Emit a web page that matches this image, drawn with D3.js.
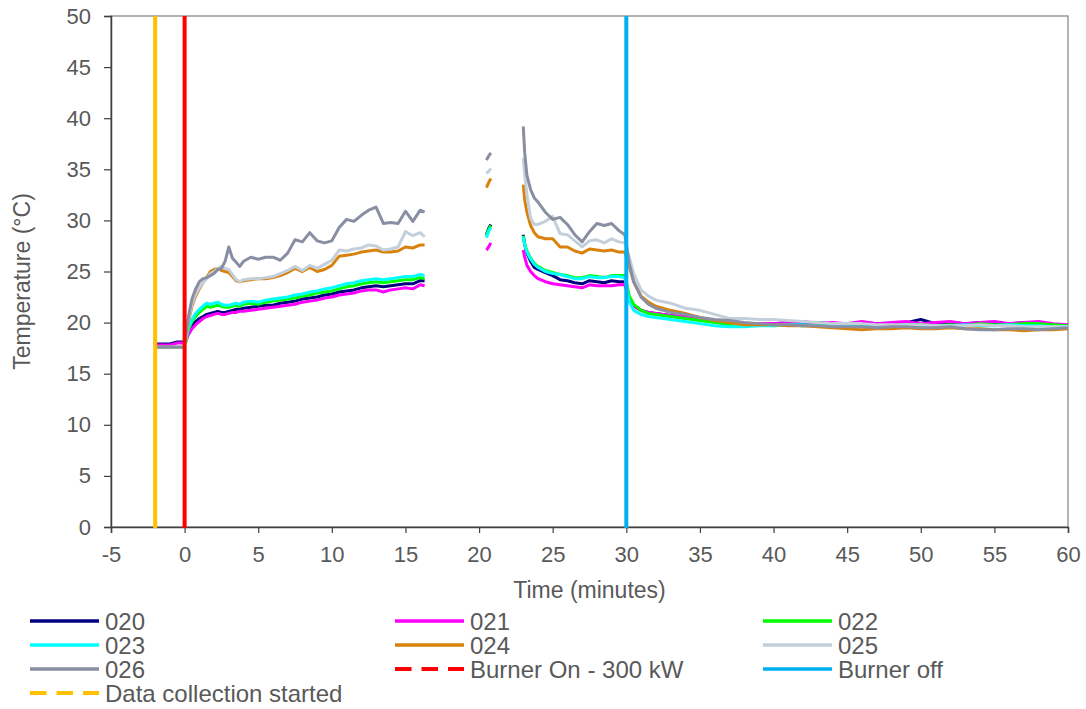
<!DOCTYPE html>
<html lang="en">
<head>
<meta charset="UTF-8" />
<title>Temperature vs Time</title>
<script src="https://d3js.org/d3.v7.min.js"></script>
<style>
  body { margin: 0; background: #fff; }
  svg { display: block; font-family: "Liberation Sans", Arial, sans-serif; }
</style>
</head>
<body>
<svg id="chart" width="1086" height="709"></svg>
<script>
// time (minutes): warm-up, gap, short mid segment, gap, cool-down
const tWarm = [-2, -1.5, -1, -0.5, -0.05, 0.1, 0.25, 0.5, 0.75,
  1, 1.25, 1.5, 1.75, 2, 2.25, 2.5, 2.75, 3, 3.25, 3.5, 3.75, 4,
  4.5, 5, 5.5, 6, 6.5, 7, 7.5, 8, 8.5, 9, 9.5, 10, 10.5, 11, 11.5, 12, 12.5, 13, 13.5, 14, 14.5, 15, 15.5, 16,
  16.3];
const tMid = [20.5, 20.65, 20.8];
const tCool = [23, 23.1, 23.25, 23.5, 23.75, 24, 24.5, 25, 25.5, 26, 26.5, 27, 27.5, 28, 28.5, 29, 29.5, 29.9,
  30.2, 30.5, 31, 31.5, 32,
  33, 34, 35, 36, 37, 38, 39, 40, 41, 42, 43, 44, 45, 46, 47, 48, 49, 50, 51, 52, 53, 54, 55, 56, 57, 58, 59, 60];
const times = [...tWarm, 18, ...tMid, 22, ...tCool];

// temperatures (°C), null = no data
const s020 = [17.9, 17.9, 17.9, 18.1, 18.1, 18.3, 19.1, 19.7, 20.1,
  20.4, 20.6, 20.8, 20.9, 21.0, 21.1, 21.0, 21.0, 21.1, 21.2, 21.3, 21.3, 21.4,
  21.5, 21.6, 21.7, 21.7, 21.9, 22.0, 22.1, 22.3, 22.4, 22.5, 22.7, 22.8, 23.0, 23.1, 23.2, 23.4, 23.5, 23.6, 23.5, 23.6, 23.7, 23.8, 23.8, 24.1,
  24.1,
  null, 28.6, 29.2, 29.6, null,
  28.6, 27.6, 26.8, 26.0, 25.4, 25.2, 24.9, 24.6, 24.2, 24.1, 23.9, 23.8, 24.1, 24.0, 23.9, 24.1, 24.0, 24.0,
  22.4, 21.7, 21.2, 21.0, 20.9,
  20.7, 20.5, 20.3, 20.1, 19.9, 19.8, 19.9, 19.9, 20.0, 19.9, 20.0, 19.9, 19.9, 20.0, 19.9, 19.9, 20.0, 20.3, 19.9, 20.0, 19.9, 20.0, 20.0, 19.9, 20.0, 19.9, 19.8, 19.7];
const s021 = [17.8, 17.8, 17.8, 18.0, 18.0, 18.2, 18.8, 19.4, 19.8,
  20.1, 20.4, 20.6, 20.7, 20.8, 20.9, 20.8, 20.8, 20.9, 21.0, 21.0, 21.1, 21.1,
  21.2, 21.3, 21.4, 21.5, 21.6, 21.7, 21.8, 22.0, 22.1, 22.2, 22.4, 22.5, 22.7, 22.8, 22.9, 23.1, 23.2, 23.2, 23.0, 23.2, 23.3, 23.4, 23.3, 23.7,
  23.6,
  null, 27.1, 27.4, 27.8, null,
  27.1, 26.4, 25.6, 25.0, 24.6, 24.3, 24.0, 23.8, 23.7, 23.6, 23.5, 23.4, 23.7, 23.6, 23.6, 23.6, 23.7, 23.7,
  22.2, 21.6, 21.2, 21.0, 20.9,
  20.7, 20.6, 20.3, 20.1, 19.9, 19.9, 19.9, 19.9, 20.0, 20.1, 19.9, 20.0, 19.9, 20.1, 19.9, 20.0, 20.1, 19.9, 20.0, 20.1, 19.9, 20.0, 20.1, 19.9, 20.0, 20.1, 19.9, 19.8];
const s022 = [17.6, 17.6, 17.6, 17.6, 17.6, 18.2, 19.3, 20.1, 20.6,
  21.0, 21.3, 21.6, 21.5, 21.6, 21.7, 21.6, 21.5, 21.5, 21.6, 21.7, 21.6, 21.8,
  21.9, 21.8, 22.0, 22.1, 22.2, 22.3, 22.4, 22.6, 22.7, 22.9, 23.0, 23.1, 23.3, 23.5, 23.6, 23.8, 23.9, 24.0, 23.9, 24.0, 24.1, 24.2, 24.2, 24.4,
  24.3,
  null, 28.5, 29.1, 29.5, null,
  28.5, 27.7, 27.0, 26.3, 25.8, 25.5, 25.1, 24.9, 24.7, 24.6, 24.4, 24.4, 24.6, 24.5, 24.4, 24.6, 24.6, 24.6,
  22.6, 21.8, 21.2, 20.9, 20.8,
  20.6, 20.4, 20.2, 20.0, 19.8, 19.7, 19.8, 19.7, 19.8, 19.7, 19.8, 19.7, 19.7, 19.8, 19.7, 19.7, 19.8, 19.8, 19.7, 19.8, 19.7, 19.9, 19.8, 19.8, 19.9, 19.9, 19.8, 19.7];
const s023 = [17.6, 17.6, 17.6, 17.6, 17.6, 18.3, 19.5, 20.3, 20.9,
  21.3, 21.6, 21.9, 21.8, 21.9, 22.0, 21.8, 21.7, 21.7, 21.8, 21.9, 21.8, 22.0,
  22.1, 22.0, 22.2, 22.3, 22.4, 22.5, 22.7, 22.8, 23.0, 23.1, 23.3, 23.4, 23.6, 23.8, 23.9, 24.1, 24.2, 24.3, 24.2, 24.3, 24.4, 24.5, 24.5, 24.7,
  24.6,
  null, 28.3, 28.9, 29.3, null,
  28.4, 27.6, 26.9, 26.2, 25.7, 25.4, 25.0, 24.8, 24.7, 24.5, 24.3, 24.3, 24.5, 24.4, 24.4, 24.5, 24.5, 24.4,
  22.0, 21.2, 20.8, 20.6, 20.5,
  20.3, 20.1, 19.9, 19.7, 19.6, 19.6, 19.7, 19.7, 19.8, 19.8, 19.7, 19.7, 19.7, 19.8, 19.7, 19.7, 19.8, 19.7, 19.7, 19.7, 19.8, 19.7, 19.7, 19.8, 19.7, 19.7, 19.6, 19.6];
const s024 = [17.6, 17.6, 17.6, 17.6, 17.6, 18.5, 20.0, 21.6, 22.6,
  23.3, 23.9, 24.4, 25.0, 25.2, 25.3, 25.1, 25.0, 24.9, 24.5, 24.1, 24.0, 24.1,
  24.2, 24.3, 24.3, 24.4, 24.6, 24.9, 25.3, 25.0, 25.4, 25.0, 25.2, 25.6, 26.5, 26.6, 26.7, 26.9, 27.0, 27.1, 26.9, 26.9, 27.0, 27.4, 27.3, 27.6,
  27.6,
  null, 33.2, 33.7, 34.1, null,
  33.5, 32.0, 30.8, 29.5, 28.8, 28.4, 28.2, 28.2, 27.4, 27.4, 27.0, 26.8, 27.2, 27.1, 27.0, 27.1, 26.9, 26.9,
  25.5, 24.0, 22.6, 22.0, 21.6,
  21.2, 20.9, 20.5, 20.2, 20.0, 19.8, 19.8, 19.8, 19.7, 19.7, 19.6, 19.5, 19.4, 19.3, 19.4, 19.4, 19.5, 19.4, 19.4, 19.5, 19.4, 19.4, 19.3, 19.3, 19.2, 19.3, 19.3, 19.4];
const s025 = [17.6, 17.6, 17.6, 17.6, 17.6, 18.6, 20.2, 21.8, 22.8,
  23.4, 23.9, 24.3, 24.8, 25.0, 25.3, 25.5, 25.3, 25.2, 24.7, 24.2, 24.0, 24.2,
  24.3, 24.3, 24.4, 24.5, 24.8, 25.1, 25.5, 25.1, 25.6, 25.3, 25.7, 26.1, 27.1, 27.0, 27.2, 27.3, 27.6, 27.5, 27.1, 27.2, 27.4, 28.9, 28.5, 28.8,
  28.4,
  null, 34.6, 34.8, 35.1, null,
  36.1, 34.5, 32.5, 30.2, 29.6, 29.6, 29.9, 30.4, 28.7, 28.6, 28.0, 27.4, 28.0, 28.1, 27.8, 28.2, 27.9, 27.8,
  26.4, 24.8, 23.2, 22.6, 22.2,
  21.9, 21.4, 21.2, 20.8, 20.4, 20.4, 20.3, 20.3, 20.2, 20.1, 20.0, 19.9, 19.9, 19.9, 19.8, 19.8, 19.8, 19.8, 19.7, 19.7, 19.7, 19.8, 19.7, 19.7, 19.6, 19.6, 19.6, 19.6];
const s026 = [17.6, 17.6, 17.6, 17.6, 17.6, 18.8, 20.5, 22.3, 23.3,
  24.0, 24.3, 24.4, 24.6, 24.8, 25.2, 25.3, 26.0, 27.4, 26.3, 25.9, 25.5, 26.0,
  26.4, 26.2, 26.4, 26.4, 26.1, 26.8, 28.1, 27.9, 28.8, 28.0, 27.8, 28.0, 29.3, 30.1, 29.9, 30.5, 31.0, 31.3, 29.7, 29.8, 29.7, 30.9, 29.9, 31.0,
  30.8,
  null, 35.9, 36.3, 36.6, null,
  39.2, 36.6, 34.4, 33.0, 32.2, 31.8, 30.8, 30.1, 30.3, 29.6, 28.6, 27.9, 28.9, 29.7, 29.5, 29.7, 29.0, 28.6,
  25.8, 24.0, 22.5, 21.8, 21.4,
  21.0, 20.8, 20.5, 20.3, 20.2, 20.0, 19.9, 19.8, 19.8, 19.7, 19.7, 19.6, 19.6, 19.6, 19.5, 19.6, 19.6, 19.5, 19.5, 19.6, 19.4, 19.3, 19.3, 19.4, 19.4, 19.3, 19.4, 19.5];

const seriesNames = ["020", "021", "022", "023", "024", "025", "026"];
const seriesValues = [s020, s021, s022, s023, s024, s025, s026];
const seriesColors = ["#000080", "#ff00ff", "#00ff00", "#00ffff", "#d9820b", "#c3cfda", "#8a8ea2"];

// event markers (vertical lines)
const eventNames = ["Burner On - 300 kW", "Burner off", "Data collection started"];
const eventTimes = [0, 30, -2];
const eventColors = ["#ff0000", "#00b0f0", "#ffc000"];
const eventDashed = [true, false, true];

const xTicks = d3.range(-5, 61, 5);
const yTicks = d3.range(0, 51, 5);

const svg = d3.select("#chart");
const margin = { top: 16, right: 18, bottom: 182, left: 111 };
const width = 1086 - margin.left - margin.right;
const height = 709 - margin.top - margin.bottom;
const textColor = "#595959";

const g = svg.append("g").attr("transform", `translate(${margin.left},${margin.top})`);

const x = d3.scaleLinear().domain([-5, 60]).range([0, width]);
const y = d3.scaleLinear().domain([0, 50]).range([height, 0]);

// plot area frame
g.append("rect")
  .attr("width", width).attr("height", height)
  .attr("fill", "none").attr("stroke", "#808080").attr("stroke-width", 1.2);

const xAxis = g.append("g")
  .attr("transform", `translate(0,${height})`)
  .call(d3.axisBottom(x).tickValues(xTicks).tickSize(6).tickPadding(13).tickFormat(d => String(d)));
const yAxis = g.append("g")
  .call(d3.axisLeft(y).tickValues(yTicks).tickSize(7).tickPadding(13).tickFormat(d => String(d)));

[xAxis, yAxis].forEach(a => {
  a.select(".domain").attr("stroke", "#404040").attr("stroke-width", 1.5);
  a.selectAll(".tick line").attr("stroke", "#404040").attr("stroke-width", 1.2);
  a.selectAll(".tick text")
    .attr("fill", textColor)
    .style("font-size", "22px")
    .style("font-family", "'Liberation Sans', Arial, sans-serif");
});

// series lines
const rows = seriesValues.map(vals => times.map((t, i) => ({ t: t, v: vals[i] })));
const line = d3.line()
  .defined(d => d.v != null)
  .x(d => x(d.t))
  .y(d => y(d.v));

g.selectAll(".series")
  .data(rows)
  .enter()
  .append("path")
  .attr("class", "series")
  .attr("d", line)
  .attr("fill", "none")
  .attr("stroke", (d, i) => seriesColors[i])
  .attr("stroke-width", 3)
  .attr("stroke-linejoin", "round");

// event lines
g.selectAll(".event")
  .data(eventTimes)
  .enter()
  .append("line")
  .attr("class", "event")
  .attr("x1", d => x(d)).attr("x2", d => x(d))
  .attr("y1", y(0) + 1).attr("y2", y(50))
  .attr("stroke", (d, i) => eventColors[i])
  .attr("stroke-width", 4);

// axis titles
svg.append("text")
  .attr("x", margin.left + width / 2)
  .attr("y", 598)
  .attr("text-anchor", "middle")
  .attr("fill", textColor)
  .style("font-size", "23px")
  .text("Time (minutes)");

svg.append("text")
  .attr("transform", `translate(30,${margin.top + height / 2 + 10}) rotate(-90)`)
  .attr("text-anchor", "middle")
  .attr("fill", textColor)
  .style("font-size", "23px")
  .text("Temperature (°C)");

// legend
const legendItems = seriesNames.map((n, i) => ({ name: n, color: seriesColors[i], dashed: false }))
  .concat(eventNames.map((n, i) => ({ name: n, color: eventColors[i], dashed: eventDashed[i] })));
const colX = [30, 395, 763];
const rowY = 621, rowStep = 24;

const legend = svg.append("g");
const item = legend.selectAll(".item")
  .data(legendItems)
  .enter()
  .append("g")
  .attr("class", "item")
  .attr("transform", (d, i) => `translate(${colX[i % 3]},${rowY + Math.floor(i / 3) * rowStep})`);

item.append("line")
  .attr("x1", 0).attr("x2", 69)
  .attr("stroke", d => d.color)
  .attr("stroke-width", d => d.dashed ? 4 : 3.5)
  .attr("stroke-dasharray", d => d.dashed ? "16.5,10" : null);

item.append("text")
  .attr("x", 75)
  .attr("dy", "0.36em")
  .attr("fill", textColor)
  .style("font-size", "24px")
  .text(d => d.name);
</script>
</body>
</html>
